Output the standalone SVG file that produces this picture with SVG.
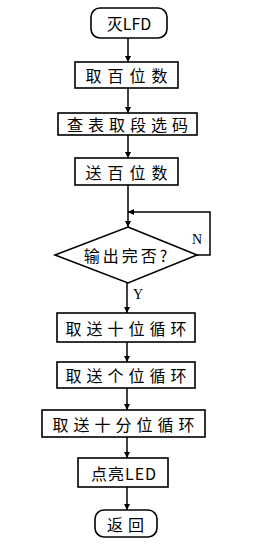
<svg xmlns="http://www.w3.org/2000/svg" width="260" height="545" viewBox="0 0 260 545">
<style>
.b{fill:#fff;stroke:#000;stroke-width:1.6}
.t{font-family:"Noto Sans CJK SC","Noto Sans",sans-serif;font-size:16px;fill:#000;text-anchor:middle;dominant-baseline:central}
.l{fill:none;stroke:#000;stroke-width:1.5}
</style>
<defs>
<marker id="a" viewBox="0 0 8 8" refX="8" refY="4" markerWidth="6" markerHeight="6" orient="auto" markerUnits="userSpaceOnUse">
<path d="M0,0 L8,4 L0,8 Z" fill="#000"/>
</marker>
</defs>
<rect width="260" height="545" fill="#fff"/>
<g id="connectors">
<line class="l" x1="128" y1="38" x2="128" y2="62" marker-end="url(#a)"/>
<line class="l" x1="128" y1="88" x2="128" y2="113" marker-end="url(#a)"/>
<line class="l" x1="128" y1="135" x2="128" y2="158" marker-end="url(#a)"/>
<line class="l" x1="128" y1="185" x2="128" y2="227" marker-end="url(#a)"/>
<polyline class="l" points="197,255 210,255 210,212 128,212" marker-end="url(#a)"/>
<line class="l" x1="127" y1="283" x2="127" y2="313" marker-end="url(#a)"/>
<line class="l" x1="127" y1="342" x2="127" y2="362" marker-end="url(#a)"/>
<line class="l" x1="127" y1="388" x2="127" y2="410" marker-end="url(#a)"/>
<line class="l" x1="127" y1="437" x2="127" y2="458" marker-end="url(#a)"/>
<line class="l" x1="127" y1="487" x2="127" y2="510" marker-end="url(#a)"/>
<text class="t" x="197" y="239" style="font-family:'Liberation Serif',serif;font-size:14px">N</text>
<text class="t" x="138" y="294" style="font-family:'Liberation Serif',serif;font-size:14px">Y</text>
</g>
<g id="n1"><rect class="b" x="91" y="8" width="76" height="30" rx="9"/><text class="t" x="129" y="23">灭LFD</text></g>
<g id="n2"><rect class="b" x="75" y="62" width="103" height="26"/><text class="t" x="129.5" y="75" letter-spacing="6">取百位数</text></g>
<g id="n3"><rect class="b" x="58" y="113" width="139" height="22"/><text class="t" x="130" y="124" letter-spacing="5">查表取段选码</text></g>
<g id="n4"><rect class="b" x="75" y="158" width="103" height="27"/><text class="t" x="129.5" y="171.5" letter-spacing="6">送百位数</text></g>
<g id="n5"><polygon class="b" points="128,227 197,255 128,283 55,255"/><text class="t" x="127" y="255" letter-spacing="3">输出完否?</text></g>
<g id="n6"><rect class="b" x="57" y="313" width="138" height="29"/><text class="t" x="128.5" y="327.5" letter-spacing="5">取送十位循环</text></g>
<g id="n7"><rect class="b" x="57" y="362" width="138" height="26"/><text class="t" x="128.5" y="375" letter-spacing="5">取送个位循环</text></g>
<g id="n8"><rect class="b" x="42" y="410" width="163" height="27"/><text class="t" x="126" y="423.5" letter-spacing="5">取送十分位循环</text></g>
<g id="n9"><rect class="b" x="78" y="458" width="90" height="29"/><text class="t" x="124" y="472.5" letter-spacing="1">点亮LED</text></g>
<g id="n10"><rect class="b" x="95" y="510" width="62" height="27" rx="9"/><text class="t" x="128" y="523.5" letter-spacing="5">返回</text></g>
</svg>
